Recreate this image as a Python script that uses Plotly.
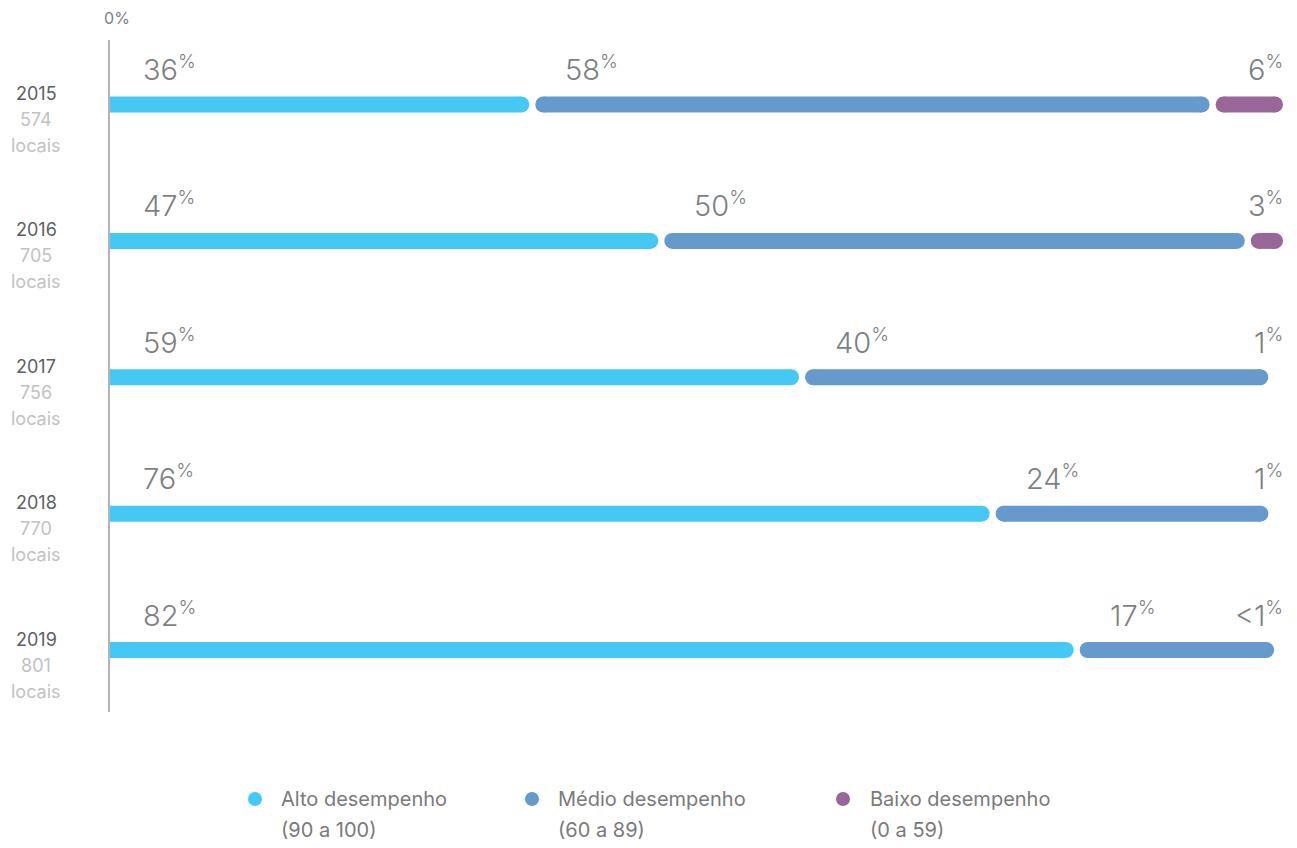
import plotly.graph_objects as go

# Share of sites per performance band, by year
years = ["2015", "2016", "2017", "2018", "2019"]
sites = [574, 705, 756, 770, 801]
alto = [36, 47, 59, 76, 82]
medio = [58, 50, 40, 24, 17]
baixo = [6, 3, 1, 1, 0.5]
baixo_text = ["6", "3", "1", "1", "<1"]

series_names = ["Alto desempenho", "Médio desempenho", "Baixo desempenho"]
series_ranges = ["(90 a 100)", "(60 a 89)", "(0 a 59)"]
colors = ["#46c8f5", "#6699cc", "#996699"]

W, H = 1297, 848
M = dict(l=110, r=14, t=40, b=136)
plot_w = W - M["l"] - M["r"]
unit = 100.0 / plot_w          # data units per pixel on the x axis
BAR = 16                       # bar thickness in px
GAP = 3                        # half gap between segments in px

label_gray = "#7c7f83"
FONT = "Inter"

fig = go.Figure()
annotations = []

for yi, year in enumerate(years):
    vals = [alto[yi], medio[yi], baixo[yi]]
    total = sum(vals)
    texts = [f"{alto[yi]}", f"{medio[yi]}", baixo_text[yi]]
    cum = 0.0
    for si, v in enumerate(vals):
        # rounded shares may not sum to exactly 100, so scale each row to its total
        start, end = cum, cum + v * 100.0 / total
        cum = end
        left = start + (GAP * unit if si > 0 else 0.0)
        right = end - (GAP * unit if si < 2 else 0.0)
        cap_left = si > 0
        if (right - left) / unit >= BAR:
            r = BAR / 2 * unit
            xs = [left + (r if cap_left else 0.0), right - r]
            # body of the segment
            fig.add_trace(go.Scatter(
                x=xs, y=[yi, yi], mode="lines",
                line=dict(color=colors[si], width=BAR),
                showlegend=False, hoverinfo="skip",
            ))
            # round end caps
            cap_x = xs if cap_left else xs[1:]
            fig.add_trace(go.Scatter(
                x=cap_x, y=[yi] * len(cap_x), mode="markers",
                marker=dict(color=colors[si], size=BAR, opacity=1, line=dict(width=0)),
                showlegend=False, hoverinfo="skip",
            ))
        label = f"{texts[si]}<sup><span style='font-size:19px'>%</span></sup>"
        common = dict(y=yi, xref="x", yref="y", text=label, yanchor="middle", yshift=36,
                      showarrow=False,
                      font=dict(family=FONT, size=29, color=label_gray, weight=300))
        if si < 2:
            annotations.append(dict(x=start, xanchor="left", xshift=31, **common))
        else:
            annotations.append(dict(x=100, xanchor="right", xshift=2, **common))

    # year / site-count labels at the left
    for txt, shift, col in [(year, 11, "#5d6063"), (str(sites[yi]), -15, "#c2c2c2"),
                            ("locais", -41, "#c2c2c2")]:
        annotations.append(dict(
            x=0, y=yi, xref="paper", yref="y", text=txt,
            xanchor="center", yanchor="middle", xshift=-74, yshift=shift,
            showarrow=False, font=dict(family=FONT, size=18, color=col),
        ))

# legend built from dots and two-line captions below the plot
legend_dot_x = [145, 422, 733]
legend_text_x = [169, 446, 758]
shapes = []
for i in range(3):
    shapes.append(dict(
        type="circle", xref="paper", yref="paper", xsizemode="pixel", ysizemode="pixel",
        xanchor=0, yanchor=0,
        x0=legend_dot_x[i] - 7, x1=legend_dot_x[i] + 7, y0=-94, y1=-80,
        fillcolor=colors[i], line=dict(width=0),
    ))
    for txt, shift in [(series_names[i], -87), (series_ranges[i], -118)]:
        annotations.append(dict(
            x=0, y=0, xref="paper", yref="paper", text=txt,
            xanchor="left", yanchor="middle", xshift=legend_text_x[i], yshift=shift,
            showarrow=False, font=dict(family=FONT, size=20, color="#7a7a7a"),
        ))

fig.update_layout(
    width=W, height=H, margin=M,
    paper_bgcolor="white", plot_bgcolor="white",
    annotations=annotations, shapes=shapes,
    showlegend=False,
    font=dict(family=FONT),
)
fig.update_xaxes(
    range=[0, 100], side="top", showgrid=False, zeroline=False, showline=False,
    tickvals=[0], ticktext=["0%"], ticks="", ticklabelshift=7, ticklabelstandoff=12,
    tickfont=dict(family=FONT, size=16, color="#7c7f83"), automargin=False,
)
fig.update_yaxes(
    range=[4.4545, -0.473], showgrid=False, zeroline=False, automargin=False,
    showline=True, linecolor="#b4b4b4", linewidth=1.5, showticklabels=False, ticks="",
)

fig.write_html("out.html")
